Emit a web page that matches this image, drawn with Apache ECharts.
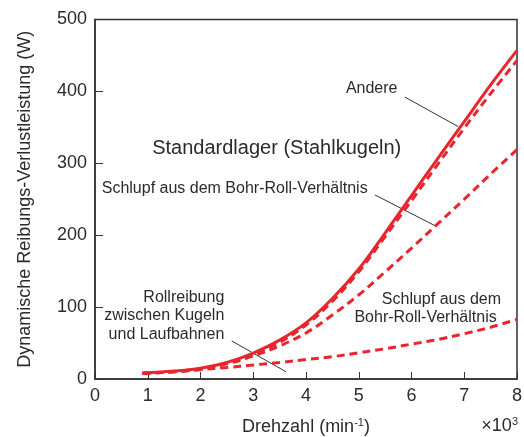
<!DOCTYPE html>
<html><head><meta charset="utf-8">
<script src="https://cdn.jsdelivr.net/npm/echarts@6/dist/echarts.min.js"></script>
<style>html,body{margin:0;padding:0;background:#fff}#c{width:524px;height:437px}</style>
</head><body><div id="c"></div>
<script>
// Drehzahl (x 10^3 min^-1)
const speed        = [0.9, 1, 1.5, 2, 2.5, 3, 3.5, 4, 4.5, 5, 5.5, 6, 6.5, 7, 7.5, 8];
// Dynamische Reibungs-Verlustleistung (W)
const totalLoss    = [8, 8.5, 11, 15, 23, 36, 54, 78, 112, 153, 203, 255, 307, 358, 409, 457];
const withoutOther = [8, 8.3, 10.5, 14.5, 22, 34, 51, 75, 108, 149, 198, 248, 299, 349, 397, 443];
const spinRollUp   = [8, 8.3, 10, 14, 21, 32, 46, 64, 89, 117, 149, 182, 216, 250, 285, 319];
const rollingOnly  = [8, 8, 10, 13, 16, 19.5, 23, 27, 31, 36.5, 42, 48.5, 55, 63, 72, 83];
const xTicks = [0, 1, 2, 3, 4, 5, 6, 7, 8];
const yTicks = [0, 100, 200, 300, 400, 500];

const FONT = '"Liberation Sans", Arial, Helvetica, sans-serif';
const RED = '#e8262e';
const TXT = '#2b2b2b';

const chart = echarts.init(document.getElementById('c'));
const pairs = ys => speed.map((x, i) => [x, ys[i]]);
const dashed = { color: RED, width: 3, type: [8, 5] };

chart.setOption({
  animation: false,
  grid: { left: 95, right: 7, top: 19.5, bottom: 58, show: true, borderColor: '#333', borderWidth: 1.5,
          containLabel: false, outerBoundsMode: 'none' },
  xAxis: {
    type: 'value', min: xTicks[0], max: xTicks[xTicks.length - 1], interval: 1,
    axisLine: { show: true, lineStyle: { color: '#333', width: 1.5 } },
    axisTick: { show: true, inside: true, length: 7, lineStyle: { color: '#333' } },
    axisLabel: { color: TXT, fontSize: 18, fontFamily: FONT, margin: 8 },
    splitLine: { show: false },
    name: '{n|Drehzahl (min}{s|-1}{n|)}', nameLocation: 'middle', nameGap: 38,
    nameTextStyle: { rich: {
      n: { fontSize: 18, fontFamily: FONT, color: TXT, lineHeight: 20 },
      s: { fontSize: 11, fontFamily: FONT, color: TXT, verticalAlign: 'top', lineHeight: 12 }
    } }
  },
  yAxis: {
    type: 'value', min: yTicks[0], max: yTicks[yTicks.length - 1], interval: 100,
    axisLine: { show: true, lineStyle: { color: '#333', width: 1.5 } },
    axisTick: { show: true, inside: true, length: 8, lineStyle: { color: '#333' } },
    axisLabel: { color: TXT, fontSize: 18, fontFamily: FONT, margin: 8 },
    splitLine: { show: false },
    name: 'Dynamische Reibungs-Verlustleistung (W)', nameLocation: 'middle', nameRotate: 90, nameGap: 61,
    nameTextStyle: { fontSize: 18, fontFamily: FONT, color: TXT }
  },
  series: [
    { type: 'line', name: 'Rollreibung', data: pairs(rollingOnly), smooth: 0.35, symbol: 'none', lineStyle: dashed },
    { type: 'line', name: 'Schlupf', data: pairs(spinRollUp), smooth: 0.35, symbol: 'none', lineStyle: dashed },
    { type: 'line', name: 'ohne Andere', data: pairs(withoutOther), smooth: 0.35, symbol: 'none', lineStyle: dashed },
    { type: 'line', name: 'Gesamt', data: pairs(totalLoss), smooth: 0.35, symbol: 'none', lineStyle: { color: RED, width: 3 } }
  ]
});

// annotations in data coordinates
const labels = [
  { text: 'Andere', at: [5.245, 404], align: 'center', size: 16 },
  { text: 'Standardlager (Stahlkugeln)', at: [3.445, 321], align: 'center', size: 20 },
  { text: 'Schlupf aus dem Bohr-Roll-Verhältnis', at: [2.648, 265], align: 'center', size: 16 },
  { text: 'Rollreibung\nzwischen Kugeln\nund Laufbahnen', at: [2.451, 88], align: 'right', size: 16 },
  { text: 'Schlupf aus dem', at: [7.697, 111], align: 'right', size: 16 },
  { text: 'Bohr-Roll-Verhältnis', at: [7.615, 86], align: 'right', size: 16 }
];
const leaders = [
  [[5.877, 392], [6.887, 351]],
  [[5.308, 256], [6.478, 212]],
  [[2.592, 53], [3.621, 10]]
];
const px = p => chart.convertToPixel({ gridIndex: 0 }, p);
const graphics = [];
labels.forEach(l => {
  const p = px(l.at);
  graphics.push({ type: 'text', x: p[0], y: p[1], silent: true,
    style: { text: l.text, fontSize: l.size, fontFamily: FONT, fill: TXT, align: l.align, verticalAlign: 'middle', lineHeight: 18.5 } });
});
leaders.forEach(s => {
  const a = px(s[0]), b = px(s[1]);
  graphics.push({ type: 'line', silent: true, shape: { x1: a[0], y1: a[1], x2: b[0], y2: b[1] }, style: { stroke: '#333', lineWidth: 1 } });
});
const corner = px([8, 0]);
graphics.push({ type: 'text', x: corner[0] + 1, y: corner[1] + 47, silent: true,
  style: { text: '{n|×10}{s|3}', align: 'right', verticalAlign: 'middle',
    rich: { n: { fontSize: 18, fontFamily: FONT, fill: TXT, lineHeight: 20 }, s: { fontSize: 11, fontFamily: FONT, fill: TXT, verticalAlign: 'top', lineHeight: 12 } } } });
chart.setOption({ graphic: graphics });
</script>
</body></html>
